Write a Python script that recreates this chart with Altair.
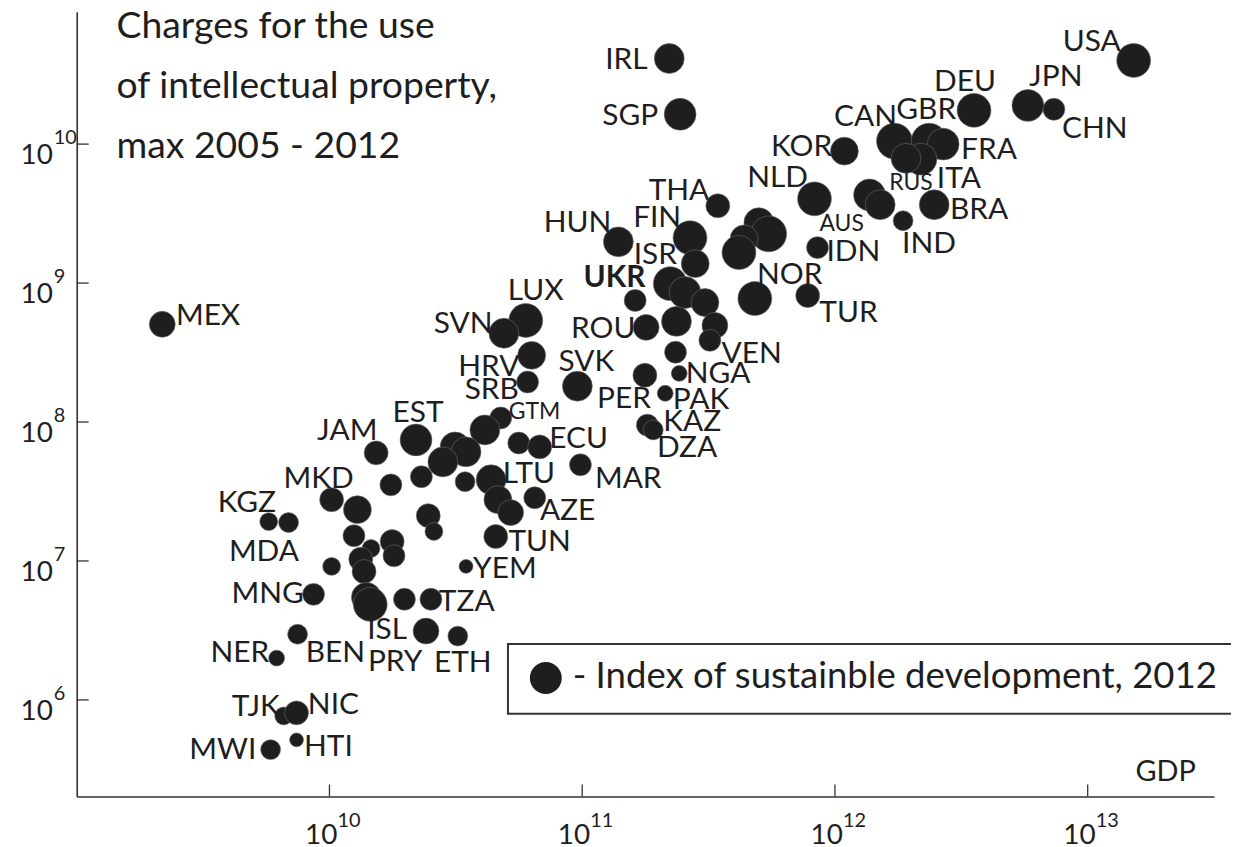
import altair as alt
import pandas as pd

# ---------------- data ----------------
countries = [
    "USA", "JPN", "CHN", "DEU", "CAN", "GBR", "FRA", "ITA", "RUS", "KOR",
    "BRA", "IND", "AUS", "", "NLD", "IDN", "TUR", "NOR", "", "",
    "", "", "THA", "IRL", "SGP", "HUN", "FIN", "ISR", "UKR", "",
    "", "", "VEN", "", "ROU", "", "", "NGA", "PER", "PAK",
    "KAZ", "DZA", "LUX", "SVN", "HRV", "SRB", "SVK", "GTM", "", "",
    "ECU", "MAR", "EST", "", "", "", "", "", "LTU", "",
    "", "AZE", "TUN", "YEM", "", "", "JAM", "", "MKD", "",
    "KGZ", "", "", "MDA", "", "", "", "", "", "MNG",
    "", "ISL", "", "TZA", "PRY", "ETH", "BEN", "NER", "TJK", "NIC",
    "MWI", "HTI", "MEX",
]
gdp = [
    1.52e13, 5.8e12, 7.35e12, 3.55e12, 1.72e12, 2.36e12, 2.68e12, 2.19e12, 1.91e12, 1.09e12,
    2.47e12, 1.86e12, 1.37e12, 1.51e12, 8.3e11, 8.53e11, 7.8e11, 4.82e11, 5.0e11, 5.47e11,
    4.37e11, 4.17e11, 3.44e11, 2.21e11, 2.44e11, 1.39e11, 2.67e11, 2.8e11, 2.23e11, 2.55e11,
    3.06e11, 3.35e11, 3.2e11, 2.36e11, 1.79e11, 1.62e11, 2.34e11, 2.42e11, 1.77e11, 2.13e11,
    1.81e11, 1.91e11, 5.98e10, 4.9e10, 6.31e10, 6.08e10, 9.57e10, 4.76e10, 4.12e10, 5.61e10,
    6.79e10, 9.84e10, 2.2e10, 3.14e10, 3.47e10, 2.81e10, 2.31e10, 3.44e10, 4.36e10, 4.64e10,
    5.21e10, 6.49e10, 4.55e10, 3.47e10, 2.46e10, 2.59e10, 1.53e10, 1.75e10, 1.02e10, 1.29e10,
    5.75e9, 6.89e9, 1.25e10, 1.02e10, 1.46e10, 1.77e10, 1.8e10, 1.33e10, 1.37e10, 8.65e9,
    1.4e10, 1.45e10, 1.98e10, 2.52e10, 2.41e10, 3.22e10, 7.48e9, 6.18e9, 6.59e9, 7.41e9,
    5.85e9, 7.41e9, 2.18e9,
]
charges = [
    4.0e10, 1.9e10, 1.78e10, 1.75e10, 1.05e10, 1.05e10, 1.0e10, 7.8e9, 7.9e9, 8.9e9,
    3.66e9, 2.81e9, 4.31e9, 3.66e9, 4.04e9, 1.8e9, 8.13e8, 7.74e8, 2.72e9, 2.26e9,
    2.08e9, 1.66e9, 3.6e9, 4.13e10, 1.64e10, 1.98e9, 2.12e9, 1.38e9, 9.9e8, 8.55e8,
    7.24e8, 4.96e8, 3.87e8, 5.3e8, 4.8e8, 7.5e8, 3.18e8, 2.24e8, 2.17e8, 1.61e8,
    9.5e7, 8.77e7, 5.38e8, 4.35e8, 3.02e8, 1.94e8, 1.81e8, 1.07e8, 8.77e7, 7.06e7,
    6.62e7, 4.92e7, 7.43e7, 6.62e7, 6.1e7, 5.16e7, 4.04e7, 3.72e7, 3.84e7, 2.76e7,
    2.23e7, 2.85e7, 1.5e7, 9.14e6, 2.12e7, 1.63e7, 6.0e7, 3.53e7, 2.76e7, 2.34e7,
    1.92e7, 1.89e7, 1.52e7, 9.14e6, 1.23e7, 1.38e7, 1.09e7, 1.03e7, 8.4e6, 5.75e6,
    5.47e6, 4.87e6, 5.3e6, 5.3e6, 3.13e6, 2.88e6, 2.97e6, 2.0e6, 7.67e5, 8.07e5,
    4.39e5, 5.16e5, 5.05e8,
]
# index of sustainable development, 2012 (bubble size)
sdi = [
    0.85, 0.80, 0.55, 0.85, 0.90, 0.90, 0.80, 0.80, 0.75, 0.70,
    0.75, 0.50, 0.80, 0.75, 0.85, 0.55, 0.60, 0.85, 0.75, 0.90,
    0.70, 0.85, 0.60, 0.75, 0.80, 0.75, 0.85, 0.70, 0.85, 0.80,
    0.70, 0.65, 0.55, 0.75, 0.65, 0.55, 0.55, 0.40, 0.60, 0.40,
    0.55, 0.50, 0.85, 0.75, 0.70, 0.55, 0.75, 0.55, 0.75, 0.55,
    0.60, 0.55, 0.80, 0.75, 0.75, 0.75, 0.55, 0.50, 0.75, 0.70,
    0.65, 0.55, 0.60, 0.35, 0.60, 0.45, 0.60, 0.55, 0.60, 0.70,
    0.45, 0.50, 0.55, 0.45, 0.45, 0.60, 0.55, 0.60, 0.60, 0.55,
    0.75, 0.85, 0.55, 0.55, 0.65, 0.50, 0.50, 0.40, 0.45, 0.60,
    0.50, 0.35, 0.65,
]

y_ticks = [1e6, 1e7, 1e8, 1e9, 1e10]
y_exps = ["6", "7", "8", "9", "10"]
x_ticks = [1e10, 1e11, 1e12, 1e13]
x_exps = ["10", "11", "12", "13"]

title_lines = ["Charges for the use", "of intellectual property,", "max 2005 - 2012"]
legend_text = "- Index of sustainble development, 2012"
x_title = "GDP"

# ---------------- layout / style ----------------
label_offsets = {  # label centre relative to its bubble, in pixels
    "USA": (-42, -21), "JPN": (28, -30), "CHN": (41, 18), "DEU": (-9, -30),
    "CAN": (-29, -26), "GBR": (-3, -33), "FRA": (46, 4), "ITA": (38, 18),
    "RUS": (5, 24), "KOR": (-43, -6), "BRA": (45, 3), "IND": (26, 21),
    "AUS": (-28, 28), "NLD": (-37, -23), "IDN": (36, 2), "TUR": (41, 16),
    "NOR": (35, -26), "THA": (-39, -17), "IRL": (-43, 0), "SGP": (-50, 0),
    "HUN": (-41, -21), "FIN": (-33, -22), "ISR": (-40, -11), "UKR": (-56, -8),
    "VEN": (42, 12), "ROU": (-43, 0), "NGA": (39, -1), "PER": (-21, 22),
    "PAK": (36, 5), "KAZ": (45, -5), "DZA": (34, 16), "LUX": (10, -32),
    "SVN": (-41, -11), "HRV": (-43, 10), "SRB": (-36, 6), "SVK": (9, -26),
    "GTM": (34, -7), "ECU": (39, -10), "MAR": (48, 12), "EST": (2, -29),
    "LTU": (38, -8), "AZE": (33, 11), "TUN": (44, 4), "YEM": (39, 1),
    "JAM": (-29, -24), "MKD": (-13, -23), "KGZ": (-22, -21), "MDA": (-68, -16),
    "MNG": (-46, -2), "ISL": (17, 24), "TZA": (36, 1), "PRY": (-31, 29),
    "ETH": (5, 25), "BEN": (38, 17), "NER": (-37, -7), "TJK": (-28, -11),
    "NIC": (37, -10), "MWI": (-48, -2), "HTI": (32, 5), "MEX": (46, -10),
}
small_labels = ["GTM", "RUS", "AUS"]
bold_labels = ["UKR"]

W, H = 1142, 788
X_LO, X_HI = 9.0, 13.5        # log10 domain of x
Y_LO, Y_HI = 5.305, 10.953    # log10 domain of y
PX_X = W / (X_HI - X_LO)      # pixels per decade
PX_Y = H / (Y_HI - Y_LO)
FONT = "Lato"
INK = "#1e1e1e"
AX = "#333333"

df = pd.DataFrame({"country": countries, "gdp": gdp, "charges": charges, "sdi": sdi})
lab = df[df["country"] != ""].copy()
lab["ldx"] = [label_offsets[c][0] for c in lab["country"]]
lab["ldy"] = [label_offsets[c][1] for c in lab["country"]]
lab["kind"] = ["small" if c in small_labels else ("bold" if c in bold_labels else "normal")
               for c in lab["country"]]

yt = pd.DataFrame({"v": y_ticks, "exp": y_exps, "base": ["10"] * len(y_ticks)})
xt = pd.DataFrame({"v": x_ticks, "exp": x_exps, "base": ["10"] * len(x_ticks)})
one = pd.DataFrame({"a": [0]})

xs = alt.Scale(type="log", domain=[10 ** X_LO, 10 ** X_HI], nice=False)
ys = alt.Scale(type="log", domain=[10 ** Y_LO, 10 ** Y_HI], nice=False)
xaxis = alt.Axis(labels=False, ticks=False, grid=False, title=None,
                 domainColor=AX, domainWidth=1.6)
yaxis = alt.Axis(labels=False, ticks=False, grid=False, title=None,
                 domainColor=AX, domainWidth=1.6)

dots = alt.Chart(df).mark_circle(color=INK, opacity=1, stroke="#6a6a6a", strokeWidth=0.6).encode(
    x=alt.X("gdp:Q", scale=xs, axis=xaxis),
    y=alt.Y("charges:Q", scale=ys, axis=yaxis),
    size=alt.Size("sdi:Q", scale=alt.Scale(type="pow", exponent=2, domain=[0, 1], range=[0, 1600]),
                  legend=None),
)

ytick_rules = alt.Chart(yt).mark_rule(color=AX, strokeWidth=1.3).encode(
    y=alt.Y("v:Q", scale=ys, axis=yaxis), x=alt.value(0), x2=alt.value(12))
xtick_rules = alt.Chart(xt).mark_rule(color=AX, strokeWidth=1.3).encode(
    x=alt.X("v:Q", scale=xs, axis=xaxis), y=alt.value(H), y2=alt.value(H - 12))

ybase = alt.Chart(yt).mark_text(font=FONT, fontSize=28, align="right", baseline="alphabetic",
                                dy=20, color=INK).encode(
    y=alt.Y("v:Q", scale=ys, axis=yaxis), x=alt.value(-24), text="base:N")
yexp = alt.Chart(yt).mark_text(font=FONT, fontSize=20, align="left", baseline="alphabetic",
                               color=INK).encode(
    y=alt.Y("v:Q", scale=ys, axis=yaxis), x=alt.value(-23), text="exp:N")
xbase = alt.Chart(xt).mark_text(font=FONT, fontSize=28, align="right", baseline="alphabetic",
                                dx=8, color=INK).encode(
    x=alt.X("v:Q", scale=xs, axis=xaxis), y=alt.value(H + 48), text="base:N")
xexp = alt.Chart(xt).mark_text(font=FONT, fontSize=20, align="left", baseline="alphabetic",
                               dx=8, color=INK).encode(
    x=alt.X("v:Q", scale=xs, axis=xaxis), y=alt.value(H + 31), text="exp:N")

# label anchors: bubble position shifted by the pixel offsets, through the log scales
lab_base = alt.Chart(lab).transform_calculate(
    lx=f"datum.gdp * pow(10, datum.ldx / {PX_X})",
    ly=f"datum.charges * pow(10, -datum.ldy / {PX_Y})",
).encode(
    x=alt.X("lx:Q", scale=xs, axis=xaxis),
    y=alt.Y("ly:Q", scale=ys, axis=yaxis),
    text="country:N",
)
lab_normal = lab_base.transform_filter(alt.datum.kind == "normal").mark_text(
    font=FONT, fontSize=30, align="center", baseline="alphabetic", dy=11, color=INK)
lab_small = lab_base.transform_filter(alt.datum.kind == "small").mark_text(
    font=FONT, fontSize=23, align="center", baseline="alphabetic", dy=8, color=INK)
lab_bold = lab_base.transform_filter(alt.datum.kind == "bold").mark_text(
    font=FONT, fontSize=30, fontWeight="bold", align="center", baseline="alphabetic", dy=11, color=INK)

title = alt.Chart(one).mark_text(font=FONT, fontSize=37.5, align="left", baseline="alphabetic",
                                 lineHeight=60.5, color=INK).encode(
    x=alt.value(40), y=alt.value(26), text=alt.value(title_lines))

gdp_lab = alt.Chart(one).mark_text(font=FONT, fontSize=29, align="left", baseline="alphabetic",
                                   color=INK).encode(
    x=alt.value(1063), y=alt.value(772), text=alt.value(x_title))

leg_box = alt.Chart(one).mark_rect(fill="white", stroke=AX, strokeWidth=2).encode(
    x=alt.value(433), x2=alt.value(1160), y=alt.value(635), y2=alt.value(705))
leg_dot = alt.Chart(one).mark_circle(size=1024, color=INK, opacity=1).encode(
    x=alt.value(471), y=alt.value(669))
leg_txt = alt.Chart(one).mark_text(font=FONT, fontSize=36.7, align="left", baseline="alphabetic",
                                   color=INK).encode(
    x=alt.value(498), y=alt.value(679), text=alt.value(legend_text))

chart = alt.layer(
    dots, ytick_rules, xtick_rules, ybase, yexp, xbase, xexp,
    lab_normal, lab_small, lab_bold, title, gdp_lab, leg_box, leg_dot, leg_txt,
).properties(
    width=W, height=H,
    autosize=alt.AutoSizeParams(type="none"),
    padding={"left": 69, "top": 2, "right": 17, "bottom": 49},
).configure_view(stroke=None)

chart.save("out.html", embed_options={"renderer": "svg", "actions": False})
